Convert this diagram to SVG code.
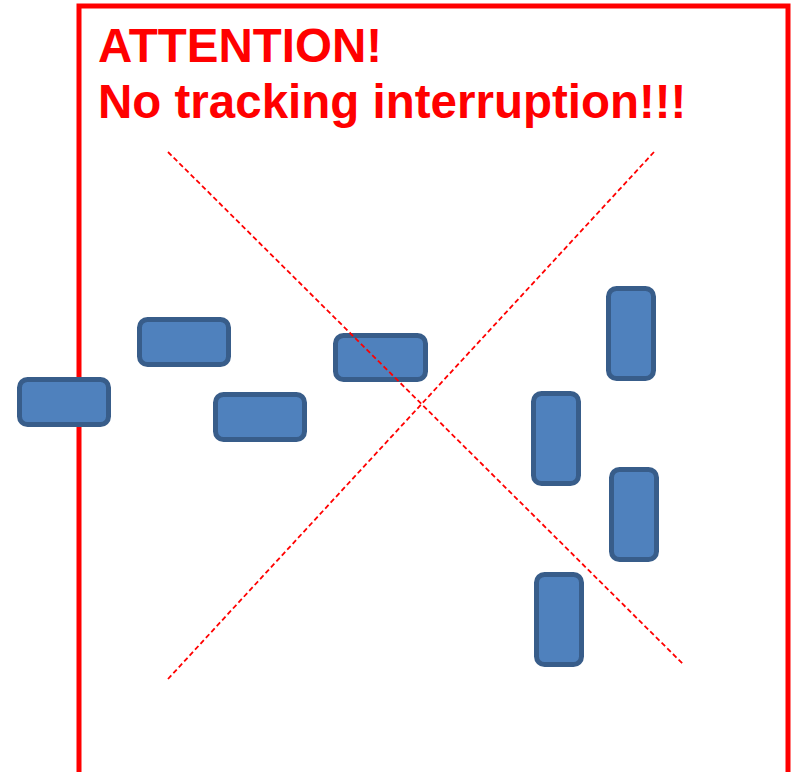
<svg xmlns="http://www.w3.org/2000/svg" width="798" height="772" viewBox="0 0 798 772">
<style>
.frame{fill:none;stroke:#FF0000;stroke-width:5}
.title{font-family:"Liberation Sans",Arial,sans-serif;font-weight:bold;font-size:47.5px;fill:#FF0000}
.box{fill:#4F81BD;stroke:#385D8A;stroke-width:5}
.cross{stroke:#FF0000;stroke-width:1.8;stroke-dasharray:5 3;fill:none}
</style>
<rect width="798" height="772" fill="#FFFFFF"/>
<rect class="frame" x="79" y="6" width="709" height="772"/>
<g id="title">
<text class="title" x="98" y="62">ATTENTION!</text>
<text class="title" x="98" y="118">No tracking interruption!!!</text>
</g>
<g id="h1"><rect class="box" x="19.5" y="379.5" width="89" height="45" rx="8"/></g>
<g id="h2"><rect class="box" x="139.5" y="319.5" width="89" height="45" rx="8"/></g>
<g id="h3"><rect class="box" x="215.5" y="394.5" width="89" height="45" rx="8"/></g>
<g id="h4"><rect class="box" x="335.5" y="335.5" width="90" height="44" rx="8"/></g>
<g id="v1"><rect class="box" x="608.5" y="288.5" width="45" height="90" rx="8"/></g>
<g id="v2"><rect class="box" x="533.5" y="393.5" width="45" height="90" rx="8"/></g>
<g id="v3"><rect class="box" x="611.5" y="469.5" width="45" height="90" rx="8"/></g>
<g id="v4"><rect class="box" x="536.5" y="574.5" width="45" height="90" rx="8"/></g>
<g id="connectors">
<line class="cross" x1="168" y1="152" x2="684" y2="665"/>
<line class="cross" x1="654" y1="152" x2="168" y2="679"/>
</g>
</svg>
